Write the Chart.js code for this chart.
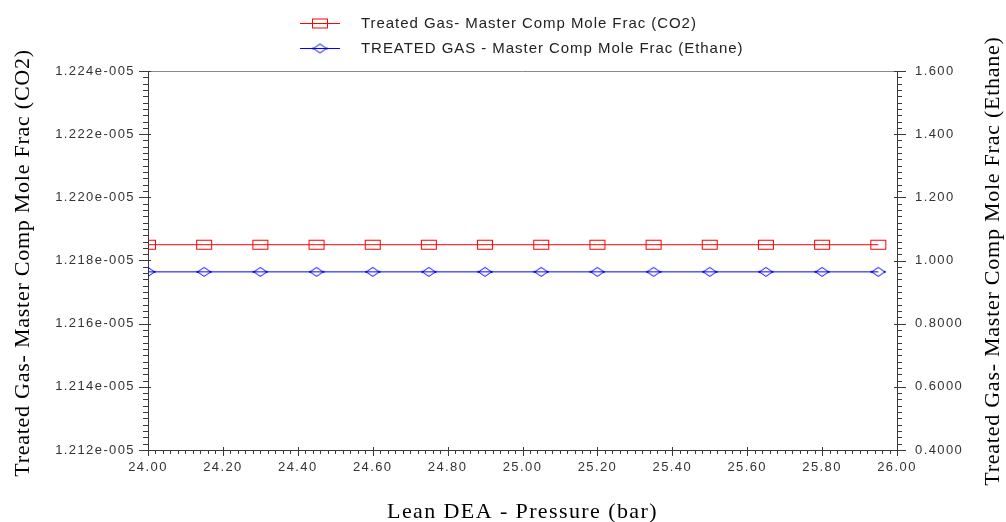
<!DOCTYPE html>
<html>
<head>
<meta charset="utf-8">
<script src="https://cdn.jsdelivr.net/npm/chart.js@4.4.1/dist/chart.umd.min.js"></script>
<style>
html,body{margin:0;padding:0;background:#fff;}
canvas{display:block;}
</style>
</head>
<body>
<canvas id="c" width="1006" height="522"></canvas>
<script>
// ---- data ----
const pressure = [24.00, 24.15, 24.30, 24.45, 24.60, 24.75, 24.90, 25.05, 25.20, 25.35, 25.50, 25.65, 25.80, 25.95];
const co2Frac = [1.2185e-5, 1.2185e-5, 1.2185e-5, 1.2185e-5, 1.2185e-5, 1.2185e-5, 1.2185e-5, 1.2185e-5, 1.2185e-5, 1.2185e-5, 1.2185e-5, 1.2185e-5, 1.2185e-5, 1.2185e-5];
const ethaneFrac = [0.964, 0.964, 0.964, 0.964, 0.964, 0.964, 0.964, 0.964, 0.964, 0.964, 0.964, 0.964, 0.964, 0.964];
const xTicks = [24.00, 24.20, 24.40, 24.60, 24.80, 25.00, 25.20, 25.40, 25.60, 25.80, 26.00];
const leftTicks = [1.212e-5, 1.214e-5, 1.216e-5, 1.218e-5, 1.220e-5, 1.222e-5, 1.224e-5];
const rightTicks = [0.4, 0.6, 0.8, 1.0, 1.2, 1.4, 1.6];
const seriesNames = ['Treated Gas- Master Comp Mole Frac (CO2)', 'TREATED GAS - Master Comp Mole Frac (Ethane)'];
const xTitle = 'Lean DEA - Pressure (bar)';
const leftTitle = 'Treated Gas- Master Comp Mole Frac (CO2)';
const rightTitle = 'Treated Gas- Master Comp Mole Frac (Ethane)';

// ---- marker images ----
function rectMarker(){
  const c = document.createElement('canvas'); c.width = 18; c.height = 12;
  const g = c.getContext('2d'); g.strokeStyle = '#ff0000'; g.lineWidth = 1;
  g.strokeRect(1.5, 1.5, 15, 9);
  return c;
}
function diamondMarker(){
  const c = document.createElement('canvas'); c.width = 16; c.height = 12;
  const g = c.getContext('2d'); g.strokeStyle = '#0000ff'; g.lineWidth = 1;
  g.beginPath(); g.moveTo(1.5, 6); g.lineTo(8, 1.5); g.lineTo(14.5, 6); g.lineTo(8, 10.5); g.closePath(); g.stroke();
  g.fillStyle = '#0000ff'; g.fillRect(0.5, 5, 2, 2); g.fillRect(13.5, 5, 2, 2);
  return c;
}
const rectImg = rectMarker();
const diaImg = diamondMarker();

const fmtLeft = v => v.toExponential(3).replace(/e-(\d+)/, (m, d) => 'e-' + d.padStart(3, '0'));
const fmtRight = v => v.toPrecision(4);

const AXIS = '#3a3a3a';

const decor = {
  id: 'decor',
  beforeDraw(chart){ chart.ctx.letterSpacing = '1.4px'; },
  afterDraw(chart){
    const ctx = chart.ctx, a = chart.chartArea;
    const sx = chart.scales.x, sl = chart.scales.y, sr = chart.scales.y1;
    ctx.save();
    ctx.letterSpacing = '0px';
    // top border
    ctx.strokeStyle = '#8a8a8a'; ctx.lineWidth = 1;
    ctx.beginPath(); ctx.moveTo(a.left, a.top + 0.5); ctx.lineTo(a.right, a.top + 0.5); ctx.stroke();
    ctx.strokeStyle = AXIS;
    ctx.beginPath();
    // left axis ticks
    for (let i = 0; i < leftTicks.length; i++) {
      const y = Math.round(sl.getPixelForValue(leftTicks[i])) + 0.5;
      ctx.moveTo(a.left - 9, y); ctx.lineTo(a.left + 3, y);
      if (i < leftTicks.length - 1) {
        for (let k = 1; k < 10; k++) {
          const v = leftTicks[i] + (leftTicks[i+1] - leftTicks[i]) * k / 10;
          const yy = Math.round(sl.getPixelForValue(v)) + 0.5;
          ctx.moveTo(a.left - 5, yy); ctx.lineTo(a.left, yy);
        }
      }
    }
    // right axis ticks
    for (let i = 0; i < rightTicks.length; i++) {
      const y = Math.round(sr.getPixelForValue(rightTicks[i])) + 0.5;
      ctx.moveTo(a.right - 3, y); ctx.lineTo(a.right + 9, y);
      if (i < rightTicks.length - 1) {
        for (let k = 1; k < 10; k++) {
          const v = rightTicks[i] + (rightTicks[i+1] - rightTicks[i]) * k / 10;
          const yy = Math.round(sr.getPixelForValue(v)) + 0.5;
          ctx.moveTo(a.right, yy); ctx.lineTo(a.right + 5, yy);
        }
      }
    }
    // x axis ticks
    for (let i = 0; i < xTicks.length; i++) {
      const x = Math.round(sx.getPixelForValue(xTicks[i])) + 0.5;
      ctx.moveTo(x, a.bottom - 3); ctx.lineTo(x, a.bottom + 6);
      if (i < xTicks.length - 1) {
        for (let k = 1; k < 10; k++) {
          const v = xTicks[i] + (xTicks[i+1] - xTicks[i]) * k / 10;
          const xx = Math.round(sx.getPixelForValue(v)) + 0.5;
          ctx.moveTo(xx, a.bottom); ctx.lineTo(xx, a.bottom + 4);
        }
      }
    }
    ctx.stroke();

    // legend
    const rows = [
      {y: 22.5, color: '#ff0000', img: rectImg, text: seriesNames[0]},
      {y: 48, color: '#0000ff', img: diaImg, text: seriesNames[1]}
    ];
    ctx.font = '15px "Liberation Sans", Arial, sans-serif';
    ctx.letterSpacing = '0.95px';
    ctx.textBaseline = 'middle'; ctx.textAlign = 'left';
    rows.forEach(r => {
      ctx.strokeStyle = r.color; ctx.lineWidth = 1;
      ctx.beginPath(); ctx.moveTo(300, Math.round(r.y) + 0.5); ctx.lineTo(340, Math.round(r.y) + 0.5); ctx.stroke();
      ctx.drawImage(r.img, Math.round(320 - r.img.width / 2), Math.round(r.y - r.img.height / 2) + 0.5);
      ctx.fillStyle = '#222';
      ctx.fillText(r.text, 361, r.y + 1);
    });

    // y titles (both read bottom-to-top)
    ctx.font = '22px "Liberation Serif", "Times New Roman", serif';
    ctx.letterSpacing = '0.75px';
    ctx.fillStyle = '#000'; ctx.textAlign = 'center'; ctx.textBaseline = 'middle';
    [[23, 263, leftTitle], [993, 261, rightTitle]].forEach(([x, y, t]) => {
      ctx.save(); ctx.translate(x, y); ctx.rotate(-Math.PI / 2); ctx.fillText(t, 0, 0); ctx.restore();
    });
    ctx.restore();
  }
};

const tickFont = {family: '"Liberation Sans", Arial, sans-serif', size: 13};

new Chart(document.getElementById('c'), {
  type: 'line',
  data: {
    datasets: [
      {label: seriesNames[0], data: pressure.map((p, i) => ({x: p, y: co2Frac[i]})), yAxisID: 'y',
       borderColor: '#ff0000', borderWidth: 1, pointStyle: rectImg, pointRadius: 6, fill: false, tension: 0},
      {label: seriesNames[1], data: pressure.map((p, i) => ({x: p, y: ethaneFrac[i]})), yAxisID: 'y1',
       borderColor: '#0000ff', borderWidth: 1, pointStyle: diaImg, pointRadius: 6, fill: false, tension: 0}
    ]
  },
  options: {
    responsive: false,
    animation: false,
    events: [],
    layout: {padding: {top: 71, left: 0, right: 0, bottom: 0}},
    plugins: {legend: {display: false}, tooltip: {enabled: false}},
    scales: {
      x: {
        type: 'linear', position: 'bottom', min: 24, max: 26,
        afterBuildTicks: s => { s.ticks = xTicks.map(v => ({value: v})); },
        afterFit: s => { s.height = 72; },
        grid: {display: false, drawTicks: false},
        border: {display: true, color: AXIS, width: 1},
        ticks: {autoSkip: false, maxRotation: 0, padding: 10, color: '#333', font: tickFont, callback: v => Number(v).toFixed(2)},
        title: {display: true, text: xTitle, color: '#000', font: {family: '"Liberation Serif", "Times New Roman", serif', size: 22, lineHeight: 1}, padding: {top: 0, bottom: -1}}
      },
      y: {
        type: 'linear', position: 'left', min: 1.212e-5, max: 1.224e-5,
        afterBuildTicks: s => { s.ticks = leftTicks.map(v => ({value: v})); },
        afterFit: s => { s.width = 148; },
        grid: {display: false, drawTicks: false},
        border: {display: true, color: AXIS, width: 1},
        ticks: {autoSkip: false, padding: 13, color: '#333', font: tickFont, callback: v => fmtLeft(v)}
      },
      y1: {
        type: 'linear', position: 'right', min: 0.4, max: 1.6,
        afterBuildTicks: s => { s.ticks = rightTicks.map(v => ({value: v})); },
        afterFit: s => { s.width = 109; },
        grid: {display: false, drawTicks: false},
        border: {display: true, color: AXIS, width: 1},
        ticks: {autoSkip: false, padding: 18, color: '#333', font: tickFont, callback: v => fmtRight(v)}
      }
    }
  },
  plugins: [decor]
});
</script>
</body>
</html>
